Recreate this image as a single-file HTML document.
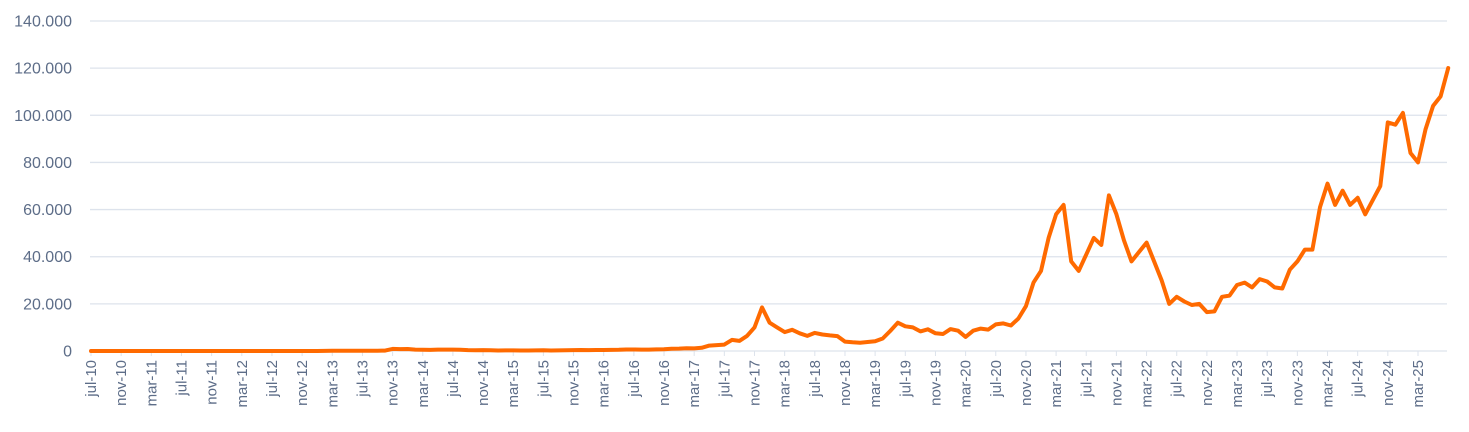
<!DOCTYPE html>
<html><head><meta charset="utf-8"><style>
html,body{margin:0;padding:0;background:#fff;}
svg{display:block;font-family:"Liberation Sans",sans-serif;}
</style></head><body>
<svg id="chart" width="1469" height="432" viewBox="0 0 1469 432" xmlns="http://www.w3.org/2000/svg">
<g id="grid"></g>
<g id="yaxis"></g>
<g id="xaxis"></g>
<g id="series"></g>
</svg>
<script>
const yTicks = [0,20000,40000,60000,80000,100000,120000,140000];
const yTickLabels = ["0","20.000","40.000","60.000","80.000","100.000","120.000","140.000"];
const xTickLabels = ["jul-10","nov-10","mar-11","jul-11","nov-11","mar-12","jul-12","nov-12","mar-13","jul-13","nov-13","mar-14","jul-14","nov-14","mar-15","jul-15","nov-15","mar-16","jul-16","nov-16","mar-17","jul-17","nov-17","mar-18","jul-18","nov-18","mar-19","jul-19","nov-19","mar-20","jul-20","nov-20","mar-21","jul-21","nov-21","mar-22","jul-22","nov-22","mar-23","jul-23","nov-23","mar-24","jul-24","nov-24","mar-25"];
// monthly prices from jul-2010
const prices = [
0.07,0.07,0.06,0.1,0.2,0.3,
0.5,1,0.9,0.8,8,17,14,10,5,3,3,4,
6,5,5,5,5,6,8,10,12,11,12,13,
18,30,90,120,120,100,90,120,130,180,900,800,
850,600,500,450,600,600,600,500,400,350,380,320,
220,250,250,230,230,250,280,230,235,300,380,430,
380,430,420,450,530,650,650,580,610,700,740,960,
1000,1150,1100,1350,2300,2500,2700,4700,4300,6400,10000,18500,
12000,10000,8000,9000,7500,6400,7700,7000,6600,6300,4000,3700,
3500,3800,4100,5300,8500,12000,10500,10000,8300,9200,7500,7200,
9300,8600,6000,8600,9500,9100,11300,11700,10800,13800,19000,29000,
34000,48000,58000,62000,38000,34000,41000,48000,45000,66000,58000,47000,
38000,42000,46000,38000,30000,20000,23000,21000,19500,20000,16500,16800,
23000,23500,28000,29000,27000,30500,29500,27000,26500,34500,38000,43000,
43000,61000,71000,62000,68000,62000,65000,58000,64000,70000,97000,96000,
101000,84000,80000,94000,104000,108000,120000
];
const NS='http://www.w3.org/2000/svg';
const x0=91, monthPx=(1418-91)/176, xEnd=1447;
const yBase=351, yTop=21, yMax=140000;
const X=m=>x0+m*monthPx;
const Y=v=>yBase-(v/yMax)*(yBase-yTop);
function mk(t,a,p){const e=document.createElementNS(NS,t);for(const k in a)e.setAttribute(k,a[k]);p.appendChild(e);return e;}
const grid=document.getElementById('grid'),ya=document.getElementById('yaxis'),xa=document.getElementById('xaxis'),ser=document.getElementById('series');
yTicks.forEach((v,i)=>{
  const l=mk('line',{x1:90,x2:xEnd,y1:Y(v),y2:Y(v),stroke:'#dde3ec','stroke-width':1.3},grid);
  
  
  const t=mk('text',{x:72,y:Y(v)+5.5,'text-anchor':'end','font-size':16,fill:'#5d6d88'},ya);
  t.textContent=yTickLabels[i];
  
  
});
xTickLabels.forEach((s,i)=>{
  const x=X(i*4);
  const tk=mk('line',{x1:x,x2:x,y1:yBase,y2:yBase+5,stroke:'#dde3ec','stroke-width':1},xa);
  
  
  const t=mk('text',{x:0,y:0,'text-anchor':'end','font-size':15,fill:'#5d6d88',transform:`translate(${x+5},360) rotate(-90)`},xa);
  t.textContent=s;
  
  
});
const pts=prices.map((v,i)=>X(i).toFixed(1)+','+Y(v).toFixed(1)).join(' ');
const pl=mk('polyline',{points:pts,fill:'none',stroke:'#ff6a00','stroke-width':4,'stroke-linejoin':'round','stroke-linecap':'round'},ser);


</script>
</body></html>
